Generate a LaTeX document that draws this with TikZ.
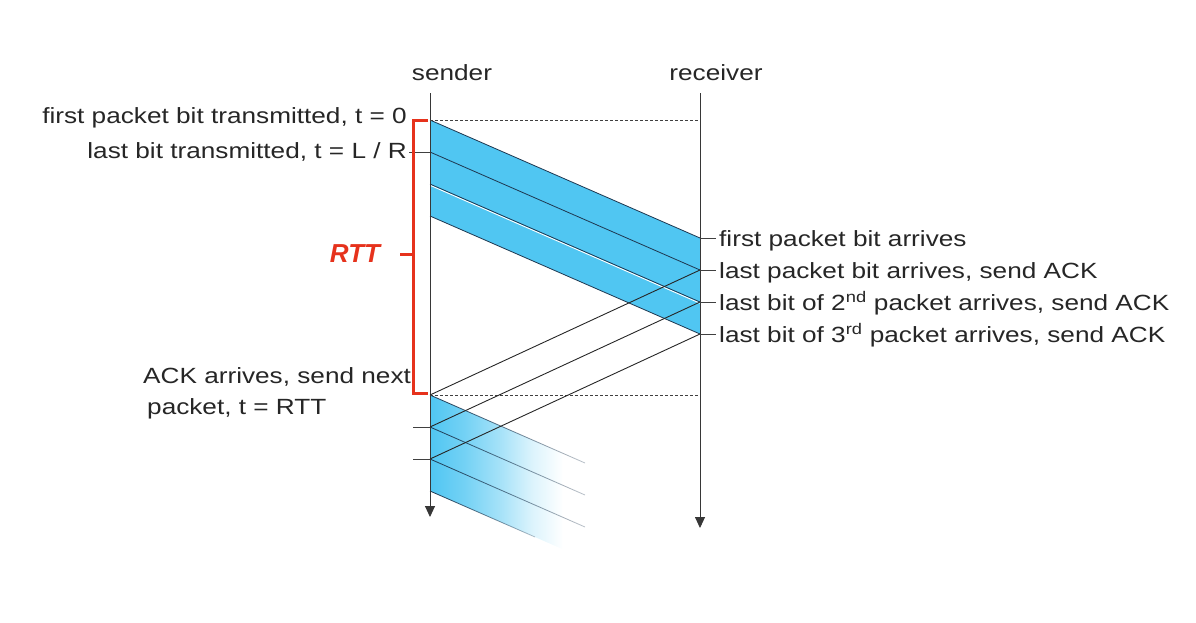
\documentclass[tikz,border=0pt]{standalone}
\usepackage{fontspec}
\setmainfont{Liberation Sans}[FakeStretch=1.19]
\newfontfamily\rttfont{Liberation Sans}
\usetikzlibrary{fadings,arrows.meta}
\definecolor{pkt}{RGB}{80,198,242}
\definecolor{pktedge}{RGB}{30,55,80}
\definecolor{rttred}{RGB}{230,50,28}
\definecolor{axisgray}{RGB}{55,55,55}
\pgfdeclarehorizontalshading{bandshade}{100bp}{color(0bp)=(pkt); color(25bp)=(pkt); color(36bp)=(pkt!80); color(48bp)=(pkt!50); color(58bp)=(pkt!20); color(68bp)=(white); color(100bp)=(white)}
\tikzfading[name=fadeline, left color=transparent!0, right color=transparent!70]
\begin{document}
\begin{tikzpicture}[x=1pt,y=-1pt,
  font=\fontsize{22}{26}\selectfont,
  lbl/.style={inner sep=0pt, text=black!85},
  axisline/.style={draw=axisgray, line width=0.9pt, -{Triangle[length=11pt,width=10pt]}},
  edge/.style={draw=pktedge, line width=0.8pt},
  ackline/.style={draw=black!85, line width=0.9pt},
  tick/.style={draw=black!75, line width=0.8pt},
  dashline/.style={draw=black!75, line width=0.7pt, dash pattern=on 3pt off 2pt},
  bracket/.style={draw=rttred, line width=3pt}
]
\useasboundingbox (0,0) rectangle (1196,622);
% axis coordinates
\coordinate (sTop) at (430,93);
\coordinate (sBot) at (430,517);
\coordinate (rTop) at (700,93);
\coordinate (rBot) at (700,528);
% sender times
\coordinate (s0) at (430,120);
\coordinate (s1) at (430,152);
\coordinate (s2) at (430,184);
\coordinate (s3) at (430,216);
\coordinate (sA) at (430,395);
\coordinate (sB) at (430,427);
\coordinate (sC) at (430,459);
\coordinate (sD) at (430,491);
% receiver times
\coordinate (r0) at (700,238);
\coordinate (r1) at (700,270);
\coordinate (r2) at (700,302);
\coordinate (r3) at (700,334);
\coordinate (rd0) at (700,120);
\coordinate (rdA) at (700,395);
% fading ends
\coordinate (fA) at (585,463);
\coordinate (fB) at (585,495);
\coordinate (fC) at (585,527);
\coordinate (fD) at (535,537);
\coordinate (fE) at (585,559);

% first window of packets
\fill[pkt] (s0) -- (r0) -- (r3) -- (s3) -- cycle;
\draw[edge] (s0) -- (r0);
\draw[edge] (s1) -- (r1);
\draw[draw=white, line width=1pt] ([yshift=-1.2pt]s2) -- ([yshift=-1.2pt]r2);
\draw[edge] (s2) -- (r2);
\draw[edge] (s3) -- (r3);

% second window (fading)
\shade[shading=bandshade] (sA) -- (fA) -- (fE) -- (sD) -- cycle;
\draw[edge, path fading=fadeline] (sA) -- (fA);
\draw[edge, path fading=fadeline] (sB) -- (fB);
\draw[edge, path fading=fadeline] (sC) -- (fC);
\draw[edge, path fading=fadeline] (sD) -- (fD);

% axes
\draw[axisline] (sTop) -- (sBot);
\draw[axisline] (rTop) -- (rBot);

% dashed lines
\draw[dashline] (s0) -- (rd0);
\draw[dashline] (sA) -- (rdA);

% ACKs
\draw[ackline] (r1) -- (sA);
\draw[ackline] (r2) -- (sB);
\draw[ackline] (r3) -- (sC);

% ticks
\coordinate (t1) at (409,152);
\coordinate (tB) at (413,427);
\coordinate (tC) at (413,459);
\draw[tick] (t1) -- (s1);
\draw[tick] (tB) -- (sB);
\draw[tick] (tC) -- (sC);
\foreach \r in {r0,r1,r2,r3} \draw[tick] (\r) -- ++(16,0);

% RTT bracket
\coordinate (bT) at (428,120);
\coordinate (bTL) at (413,120);
\coordinate (bBL) at (413,393);
\coordinate (bB) at (428,393);
\coordinate (bM) at (400,254);
\coordinate (bML) at (413,254);
\draw[bracket] (bT) -- (bTL) -- (bBL) -- (bB);
\draw[bracket] (bM) -- (bML);
\node[inner sep=0pt, anchor=base, text=rttred] (rtt) at (355,262)
  {\rttfont\fontsize{26}{30}\selectfont\bfseries\itshape RTT};

% labels
\node[lbl, anchor=base] (lsender) at (452,80) {sender};
\node[lbl, anchor=base] (lreceiver) at (716,80) {receiver};
\node[lbl, anchor=base east] (lfirst) at (407,123) {first packet bit transmitted, t = 0};
\node[lbl, anchor=base east] (llast) at (407,158) {last bit transmitted, t = L / R};
\node[lbl, anchor=base west] (lack1) at (143,383) {ACK arrives, send next};
\node[lbl, anchor=base west] (lack2) at (147,414) {packet, t = RTT};
\node[lbl, anchor=base west] (lr0) at (719,246) {first packet bit arrives};
\node[lbl, anchor=base west] (lr1) at (719,278) {last packet bit arrives, send ACK};
\node[lbl, anchor=base west] (lr2) at (719,310) {last bit of 2\textsuperscript{nd} packet arrives, send ACK};
\node[lbl, anchor=base west] (lr3) at (719,342) {last bit of 3\textsuperscript{rd} packet arrives, send ACK};
\end{tikzpicture}
\end{document}
